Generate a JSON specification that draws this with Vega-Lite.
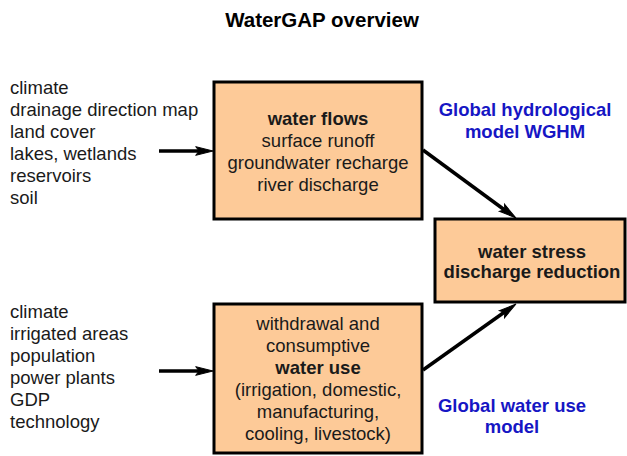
{
  "$schema": "https://vega.github.io/schema/vega-lite/v6.json",
  "width": 627,
  "height": 456,
  "autosize": {"type": "none"},
  "padding": 0,
  "background": "white",
  "config": {"view": {"stroke": null}, "font": "Liberation Sans"},
  "datasets": {
    "boxes": [
      {"box": "water flows", "x": 214, "x2": 422, "y": 82, "y2": 219},
      {"box": "water use", "x": 214, "x2": 422, "y": 304, "y2": 453},
      {"box": "water stress", "x": 435, "x2": 625, "y": 219, "y2": 302}
    ],
    "links": [
      {"x": 159, "y": 151, "x2": 200, "y2": 151},
      {"x": 159, "y": 371, "x2": 200, "y2": 371},
      {"x": 423, "y": 150, "x2": 506, "y2": 211},
      {"x": 423, "y": 370, "x2": 506, "y2": 311}
    ],
    "heads": [
      {"x": 213, "y": 151, "angle": 0},
      {"x": 213, "y": 371, "angle": 0},
      {"x": 516, "y": 218, "angle": 36},
      {"x": 516, "y": 304, "angle": -36}
    ],
    "leftText": [
      {"x": 10, "y": 88, "text": "climate"},
      {"x": 10, "y": 110, "text": "drainage direction map"},
      {"x": 10, "y": 132, "text": "land cover"},
      {"x": 10, "y": 154, "text": "lakes, wetlands"},
      {"x": 10, "y": 176, "text": "reservoirs"},
      {"x": 10, "y": 198, "text": "soil"},
      {"x": 10, "y": 312, "text": "climate"},
      {"x": 10, "y": 334, "text": "irrigated areas"},
      {"x": 10, "y": 356, "text": "population"},
      {"x": 10, "y": 378, "text": "power plants"},
      {"x": 10, "y": 400, "text": "GDP"},
      {"x": 10, "y": 422, "text": "technology"}
    ],
    "boxText": [
      {"x": 318, "y": 141, "text": "surface runoff"},
      {"x": 318, "y": 163, "text": "groundwater recharge"},
      {"x": 318, "y": 185, "text": "river discharge"},
      {"x": 318, "y": 324, "text": "withdrawal and"},
      {"x": 318, "y": 346, "text": "consumptive"},
      {"x": 318, "y": 390, "text": "(irrigation, domestic,"},
      {"x": 318, "y": 412, "text": "manufacturing,"},
      {"x": 318, "y": 434, "text": "cooling, livestock)"}
    ],
    "boldText": [
      {"x": 318, "y": 119, "text": "water flows"},
      {"x": 318, "y": 368, "text": "water use"},
      {"x": 532, "y": 252, "text": "water stress"},
      {"x": 532, "y": 272, "text": "discharge reduction"}
    ],
    "blueText": [
      {"x": 525, "y": 110, "text": "Global hydrological"},
      {"x": 525, "y": 132, "text": "model WGHM"},
      {"x": 512, "y": 406, "text": "Global water use"},
      {"x": 512, "y": 427, "text": "model"}
    ],
    "titleText": [
      {"x": 322, "y": 21, "text": "WaterGAP overview"}
    ]
  },
  "layer": [
    {
      "data": {"name": "boxes"},
      "mark": {"type": "rect", "fill": "#fdca98", "stroke": "black", "strokeWidth": 3},
      "encoding": {
        "x": {"field": "x", "type": "quantitative", "scale": {"domain": [0, 627]}, "axis": null},
        "x2": {"field": "x2"},
        "y": {"field": "y", "type": "quantitative", "scale": {"domain": [0, 456], "reverse": true}, "axis": null},
        "y2": {"field": "y2"}
      }
    },
    {
      "data": {"name": "links"},
      "mark": {"type": "rule", "stroke": "black", "strokeWidth": 3.5},
      "encoding": {
        "x": {"field": "x", "type": "quantitative", "scale": {"domain": [0, 627]}, "axis": null},
        "x2": {"field": "x2"},
        "y": {"field": "y", "type": "quantitative", "scale": {"domain": [0, 456], "reverse": true}, "axis": null},
        "y2": {"field": "y2"}
      }
    },
    {
      "data": {"name": "heads"},
      "mark": {"type": "point", "shape": "M0,0L-2,-0.5L-1.6,0L-2,0.5Z", "filled": true, "fill": "black", "stroke": "black", "strokeWidth": 1, "opacity": 1, "size": 300},
      "encoding": {
        "x": {"field": "x", "type": "quantitative", "scale": {"domain": [0, 627]}, "axis": null},
        "y": {"field": "y", "type": "quantitative", "scale": {"domain": [0, 456], "reverse": true}, "axis": null},
        "angle": {"field": "angle", "type": "quantitative", "scale": null}
      }
    },
    {
      "data": {"name": "leftText"},
      "mark": {"type": "text", "align": "left", "baseline": "middle", "fontSize": 18.5, "color": "#1a1a1a"},
      "encoding": {
        "x": {"field": "x", "type": "quantitative", "scale": {"domain": [0, 627]}, "axis": null},
        "y": {"field": "y", "type": "quantitative", "scale": {"domain": [0, 456], "reverse": true}, "axis": null},
        "text": {"field": "text"}
      }
    },
    {
      "data": {"name": "boxText"},
      "mark": {"type": "text", "align": "center", "baseline": "middle", "fontSize": 18.5, "color": "#1a1a1a"},
      "encoding": {
        "x": {"field": "x", "type": "quantitative", "scale": {"domain": [0, 627]}, "axis": null},
        "y": {"field": "y", "type": "quantitative", "scale": {"domain": [0, 456], "reverse": true}, "axis": null},
        "text": {"field": "text"}
      }
    },
    {
      "data": {"name": "boldText"},
      "mark": {"type": "text", "align": "center", "baseline": "middle", "fontSize": 18.5, "fontWeight": "bold", "color": "#1a1a1a"},
      "encoding": {
        "x": {"field": "x", "type": "quantitative", "scale": {"domain": [0, 627]}, "axis": null},
        "y": {"field": "y", "type": "quantitative", "scale": {"domain": [0, 456], "reverse": true}, "axis": null},
        "text": {"field": "text"}
      }
    },
    {
      "data": {"name": "blueText"},
      "mark": {"type": "text", "align": "center", "baseline": "middle", "fontSize": 18.5, "fontWeight": "bold", "color": "#1616c4"},
      "encoding": {
        "x": {"field": "x", "type": "quantitative", "scale": {"domain": [0, 627]}, "axis": null},
        "y": {"field": "y", "type": "quantitative", "scale": {"domain": [0, 456], "reverse": true}, "axis": null},
        "text": {"field": "text"}
      }
    },
    {
      "data": {"name": "titleText"},
      "mark": {"type": "text", "align": "center", "baseline": "middle", "fontSize": 20.5, "fontWeight": "bold", "color": "black"},
      "encoding": {
        "x": {"field": "x", "type": "quantitative", "scale": {"domain": [0, 627]}, "axis": null},
        "y": {"field": "y", "type": "quantitative", "scale": {"domain": [0, 456], "reverse": true}, "axis": null},
        "text": {"field": "text"}
      }
    }
  ]
}
